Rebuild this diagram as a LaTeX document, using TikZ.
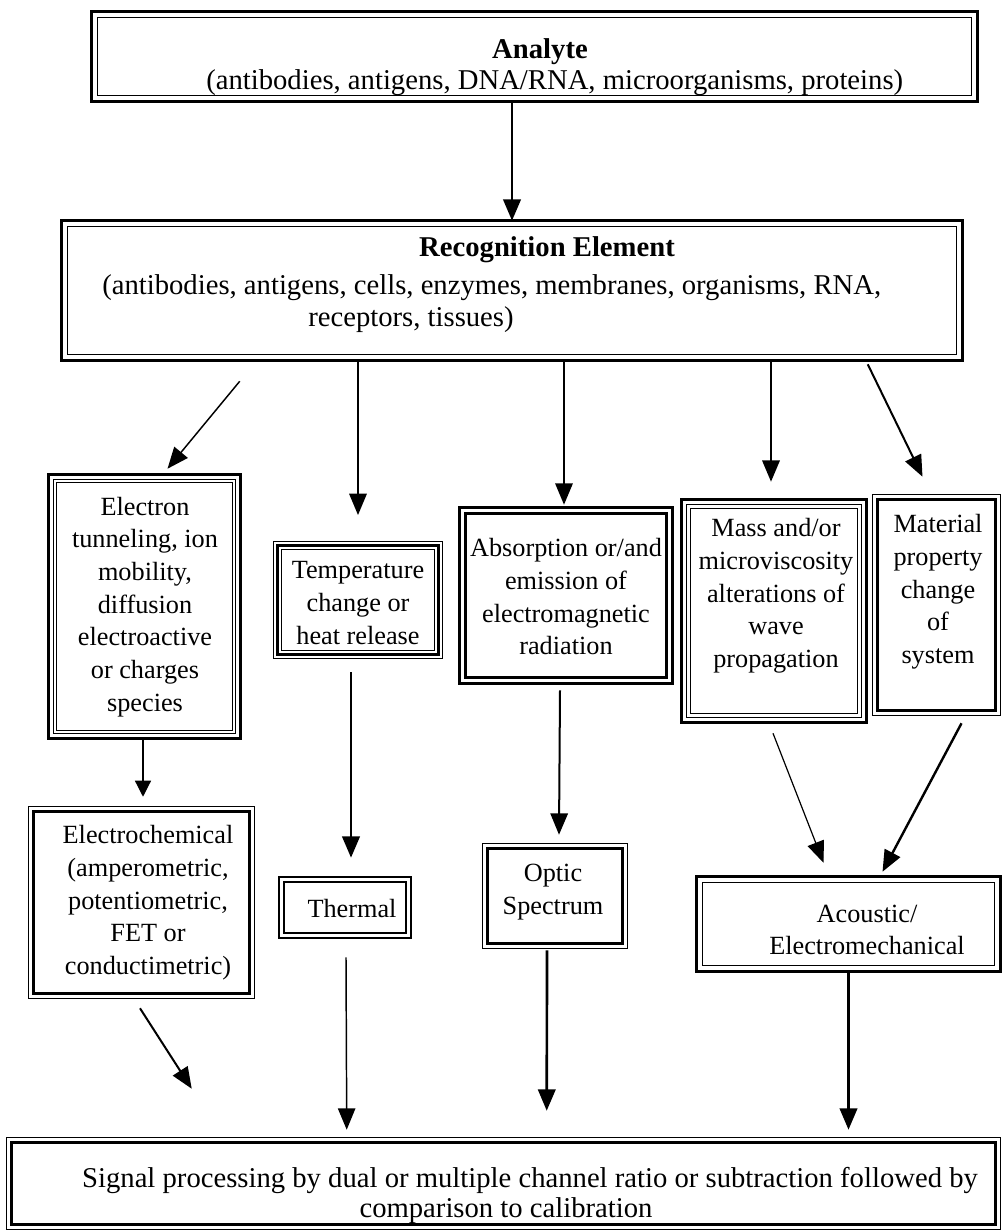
\documentclass[tikz,border=0pt]{standalone}
\usepackage{fontspec}
\setmainfont{Liberation Serif}
\usetikzlibrary{arrows.meta,fit,calc}

% one rectangular rule of a framed box: node, inset (px), width (pt)
\newcommand\rim[3]{\draw[line width=#3pt] ([shift={(#2,#2)}]#1.north west) rectangle ([shift={(-#2,-#2)}]#1.south east);}

\begin{document}
\begin{tikzpicture}[x=0.75pt,y=-0.75pt,
  boxarea/.style={inner sep=0pt, draw=none},
  headtxt/.style={font=\fontsize{21.5}{26}\selectfont, inner sep=0pt},
  bodytxt/.style={font=\fontsize{19.7}{24.5}\selectfont, align=center, inner sep=0pt},
  basetxt/.style={font=\fontsize{21.5}{24}\selectfont, inner sep=0pt},
  bighead/.style={-{Triangle[length=16pt,width=13pt]}},
  smallhead/.style={-{Triangle[length=12pt,width=12pt]}},
]
\useasboundingbox (0,0) rectangle (1001,1231);
\fill[white] (0,0) rectangle (1001,1231);

% ---------- boxes ----------
\node[boxarea, fit={(92,12) (977,101)}]     (analyte)     {};
\node[boxarea, fit={(62,221) (962,360)}]    (rec)         {};
\node[boxarea, fit={(49,475) (240,738)}]    (electron)    {};
\node[boxarea, fit={(274,542) (442,658)}]   (temp)        {};
\node[boxarea, fit={(460,508) (672,683)}]   (absorption)  {};
\node[boxarea, fit={(682,500) (866,722)}]   (mass)        {};
\node[boxarea, fit={(873,495) (1000,715)}]  (material)    {};
\node[boxarea, fit={(29,807) (254,998)}]    (electrochem) {};
\node[boxarea, fit={(279,877) (411,938)}]   (thermal)     {};
\node[boxarea, fit={(483,844) (627,948)}]   (optic)       {};
\node[boxarea, fit={(697,877) (1000,971)}]  (acoustic)    {};
\node[boxarea, fit={(7,1138) (1000,1229)}]  (signal)      {};

% ---------- frames ----------
\rim{analyte}{0}{2.2}     \rim{analyte}{5.5}{0.9}
\rim{rec}{0}{2.2}         \rim{rec}{5.5}{0.9}
\rim{electron}{0}{2.4}    \rim{electron}{4.5}{0.8}  \rim{electron}{8}{0.8}
\rim{temp}{0}{0.9}        \rim{temp}{4}{2.4}        \rim{temp}{8}{0.9}
\rim{absorption}{0}{2}    \rim{absorption}{6}{2}
\rim{mass}{0}{2.4}        \rim{mass}{5}{0.8}        \rim{mass}{8.5}{0.8}
\rim{material}{0}{0.9}    \rim{material}{5}{2}
\rim{electrochem}{0}{0.9} \rim{electrochem}{4.5}{2.4}
\rim{thermal}{0}{1.8}     \rim{thermal}{5}{1.8}
\rim{optic}{0}{0.9}       \rim{optic}{5}{2.2}
\rim{acoustic}{0}{2.4}    \rim{acoustic}{5.5}{0.9}
\rim{signal}{0}{1}        \rim{signal}{5}{2}

% ---------- texts ----------
\node[headtxt] (analyteT) at (540,52) {\textbf{Analyte}};
\node[headtxt, anchor=west] (analyteL) at (206,83) {(antibodies, antigens, DNA/RNA, microorganisms, proteins)};
\node[headtxt] (recT) at (547,250) {\textbf{Recognition Element}};
\node[headtxt, anchor=west] (recL1) at (102,288) {(antibodies, antigens, cells, enzymes, membranes, organisms, RNA,};
\node[headtxt, anchor=west] (recL2) at (308,320) {receptors, tissues)};

\node[bodytxt] (electronT) at (145,607) {Electron\\tunneling, ion\\mobility,\\diffusion\hspace*{1.2em}\\electroactive\\or charges\\species};
\node[bodytxt] (tempT) at (358,603) {Temperature\\change or\\heat release};
\node[bodytxt] (absorptionT) at (566,597) {Absorption or/and\\emission of\\electromagnetic\\radiation};
\node[bodytxt] (massT) at (776,596) {Mass and/or\\microviscosity\\alterations of\\wave\\propagation};
\node[bodytxt] (materialT) at (938,592) {Material\\property\\change\\of\\system};
\node[bodytxt] (electrochemT) at (148,903) {Electrochemical\\(amperometric,\\potentiometric,\\FET or\\conductimetric)};
\node[bodytxt] (thermalT) at (352,909) {Thermal};
\node[bodytxt] (opticT) at (553,892) {Optic\\Spectrum};
\node[bodytxt] (acousticT) at (867,930) {Acoustic/\\Electromechanical};
\node[basetxt] (signalL1) at (530,1180) {Signal processing by dual or multiple channel ratio or subtraction followed by};
\node[basetxt] (signalL2) at (506,1211) {comparison to calibration};

% ---------- connectors ----------
\draw[bighead, line width=2.2pt] (rec.north |- analyte.south) -- (rec.north);
\draw[bighead, line width=1.1pt] ($(rec.south west)+(178,21)$) -- ($(electron.north)+(23,-6)$);
\draw[bighead, line width=1.6pt, shorten >=20pt] (temp.north |- rec.south) -- (temp.north);
\draw[bighead, line width=1.5pt] ($(rec.south -| absorption.north)+(-2,0)$) -- ($(absorption.north)+(-2,-3)$);
\draw[bighead, line width=1.8pt] ($(rec.south -| mass.north)+(-3,0)$) -- ($(mass.north)+(-3,-18)$);
\draw[bighead, line width=1.5pt] ($(rec.south west)+(806,4)$) -- ($(material.north)+(-14,-18)$);

\draw[smallhead, line width=0.9pt] ($(electron.south)+(-1.5,0)$) -- ($(electrochem.north)+(1.5,-10)$);
\draw[bighead, line width=2.2pt] ($(temp.south)+(-7,14)$) -- ($(thermal.north)+(6,-19)$);
\draw[bighead, line width=1.5pt] ($(absorption.south)+(-6,7)$) -- ($(optic.north)+(4,-9)$);
\draw[bighead, line width=0.9pt] ($(mass.south)+(-1,11)$) -- ($(acoustic.north)+(-25,-14)$);
\draw[bighead, line width=1.8pt] ($(material.south)+(25,8)$) -- ($(acoustic.north)+(34,-5)$);

\draw[bighead, line width=1.5pt] ($(electrochem.south)+(-1.5,10)$) -- ($(signal.north west)+(185,-49)$);
\draw[bighead, line width=1.1pt] ($(thermal.south)+(1,19)$) -- ($(signal.north west)+(340,-8)$);
\draw[bighead, line width=2pt] ($(optic.south)+(-8,2)$) -- ($(signal.north west)+(540,-27)$);
\draw[bighead, line width=2.2pt, shorten >=6pt] (acoustic.south) -- (signal.north -| acoustic.south);
\end{tikzpicture}
\end{document}
